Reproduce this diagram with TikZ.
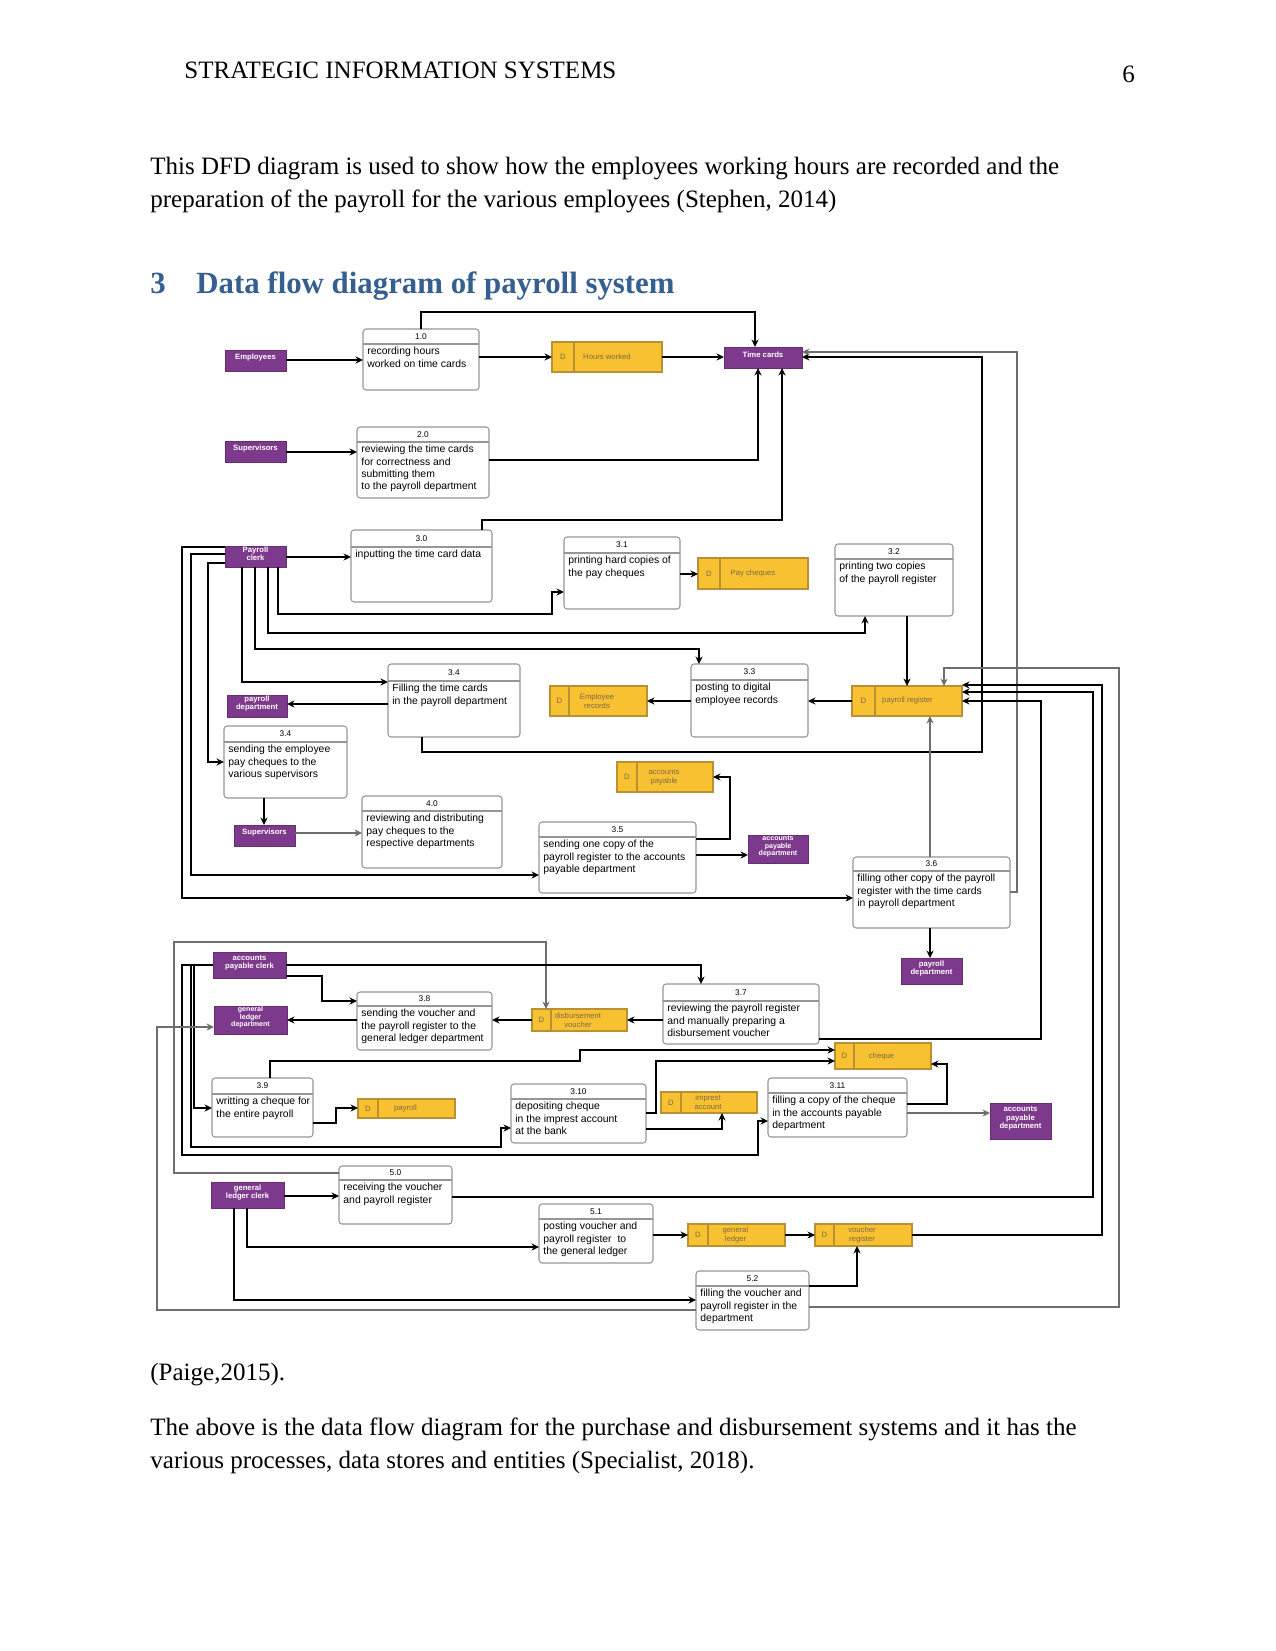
\documentclass[tikz,border=0pt]{standalone}
\usepackage{fontspec}
\setmainfont{Liberation Serif}
\setsansfont{Liberation Sans}
\usetikzlibrary{arrows.meta,fit}
\definecolor{entpurple}{RGB}{125,58,140}
\definecolor{storey}{RGB}{248,193,50}
\definecolor{storeline}{RGB}{185,145,50}
\definecolor{storetxt}{RGB}{125,105,70}
\definecolor{procline}{RGB}{150,150,150}
\definecolor{headblue}{RGB}{54,95,145}
\definecolor{flowgrey}{RGB}{110,110,110}
\tikzset{
 procbox/.style={draw=procline, fill=white, rounded corners=1.5pt, line width=0.5pt, inner sep=0pt, outer sep=0pt},
 prochdr/.style={draw=procline, line width=0.5pt},
 procnum/.style={font=\sffamily\fontsize{4}{4.5}\selectfont, inner sep=0pt},
 proctext/.style={font=\sffamily\fontsize{5}{5.9}\selectfont, anchor=north west, align=left, inner sep=0pt},
 entbox/.style={fill=entpurple, draw=entpurple!80!black, line width=0.3pt, text=white, font=\sffamily\bfseries\fontsize{3.7}{3.95}\selectfont, align=center, inner sep=0pt, outer sep=0pt},
 ent3/.style={font=\sffamily\bfseries\fontsize{3.4}{3.7}\selectfont},
 storebox/.style={fill=storey, draw=storeline, line width=0.5pt, inner sep=0pt, outer sep=0pt},
 storediv/.style={draw=storeline, line width=0.5pt},
 storeD/.style={font=\sffamily\fontsize{3.7}{4.3}\selectfont, text=storetxt, inner sep=0pt},
 storetext/.style={font=\sffamily\fontsize{3.7}{4.3}\selectfont, text=storetxt, align=center, inner sep=0pt},
 flow/.style={draw=black, line width=0.55pt, -{Stealth[length=3.6pt,width=3.4pt]}},
 gflow/.style={flow, draw=flowgrey},
 body/.style={font=\fontsize{12}{14}\selectfont, anchor=base west, inner sep=0pt},
 heading/.style={font=\bfseries\fontsize{14.8}{17}\selectfont, text=headblue, anchor=base west, inner sep=0pt},
}
\newcommand\proc[8]{%
  \node[procbox, fit={(#2,#3) (#4,#5)}] (#1) {};
  \draw[prochdr] (#2,#6) -- (#4,#6);
  \node[procnum] (#1-num) at ({(#2+#4)/2},{(#3+#6)/2}) {#7};
  \node[proctext] (#1-txt) at (#2+4,#6+3) {#8};
}
\newcommand\ent[7][]{\node[entbox, #1, fit={(#3,#4) (#5,#6)}] (#2) {#7};}
\newcommand\store[7]{%
  \node[storebox, fit={(#2,#3) (#4,#5)}] (#1) {};
  \draw[storediv] (#6,#3) -- (#6,#5);
  \node[storeD] (#1-D) at ({(#2+#6)/2},{(#3+#5)/2}) {D};
  \node[storetext] (#1-lab) at ({(#6+#4)/2-11},{(#3+#5)/2}) {#7};
}
\begin{document}
\begin{tikzpicture}[x=0.48pt,y=-0.48pt]
\fill[white] (0,0) rectangle (1275,1651);
\useasboundingbox (0,0) rectangle (1275,1651);

% page text
\node[body] (hdr) at (184,79) {STRATEGIC INFORMATION SYSTEMS};
\node[body] (pgno) at (1122,83) {6};
\node[body] (para1a) at (150,175) {This DFD diagram is used to show how the employees working hours are recorded and the};
\node[body] (para1b) at (150,208) {preparation of the payroll for the various employees (Stephen, 2014)};
\node[heading] (hnum) at (150,294) {3};
\node[heading] (htitle) at (196,294) {Data flow diagram of payroll system};
\node[body] (cite) at (150,1380) {(Paige,2015).};
\node[body] (para2a) at (150,1435) {The above is the data flow diagram for the purchase and disbursement systems and it has the};
\node[body] (para2b) at (150,1468) {various processes, data stores and entities (Specialist, 2018).};

% entities
\ent{emp}{225}{350}{286}{371}{Employees}
\ent{sup1}{225}{441}{286}{462}{Supervisors}
\ent{pc}{225}{546}{286}{567}{Payroll\\clerk}
\ent{tc}{724}{347}{802}{368}{Time cards}
\ent{pd1}{227}{695}{287}{717}{payroll\\department}
\ent{sup2}{234}{825}{295}{846}{Supervisors}
\ent[ent3]{apd1}{748}{835}{808}{863}{accounts\\payable\\department}
\ent{pd2}{901}{958}{962}{984}{payroll\\department}
\ent{apc}{213}{952}{286}{978}{accounts\\payable clerk}
\ent[ent3]{gldep}{214}{1006}{287}{1034}{general\\ledger\\department}
\ent{glc}{211}{1182}{284}{1208}{general\\ledger clerk}
\ent{apd2}{990}{1103}{1051}{1139}{accounts\\payable\\department}

% data stores
\store{hw}{552}{342}{662}{372}{574}{Hours worked}
\store{pchq}{698}{558}{808}{589}{720}{Pay cheques}
\store{er}{550}{686}{647}{716}{569}{Employee\\records}
\store{preg}{852}{686}{962}{716}{875}{payroll register}
\store{aps}{617}{762}{713}{792}{637}{accounts\\payable}
\store{dv}{532}{1009}{627}{1031}{551}{disbursement\\voucher}
\store{chq}{835}{1043}{931}{1069}{854}{cheque}
\store{pay}{358}{1099}{455}{1118}{378}{payroll}
\store{imp}{661}{1092}{757}{1113}{681}{imprest\\account}
\store{gls}{688}{1224}{785}{1246}{708}{general\\ledger}
\store{vr}{815}{1224}{912}{1246}{834}{voucher\\register}

% processes
\proc{p10}{363}{329}{479}{390}{344}{1.0}{recording hours\\worked on time cards}
\proc{p20}{357}{427}{489}{498}{442}{2.0}{reviewing the time cards\\for correctness and\\submitting them\\to the payroll department}
\proc{p30}{351}{530}{492}{602}{547}{3.0}{inputting the time card data}
\proc{p31}{564}{537}{680}{609}{553}{3.1}{printing hard copies of\\the pay cheques}
\proc{p32}{835}{544}{953}{616}{559}{3.2}{printing two copies\\of the payroll register}
\proc{p33}{691}{664}{808}{737}{680}{3.3}{posting to digital\\employee records}
\proc{p34f}{388}{664}{520}{737}{681}{3.4}{Filling the time cards\\in the payroll department}
\proc{p34s}{224}{726}{347}{798}{742}{3.4}{sending the employee\\pay cheques to the\\various supervisors}
\proc{p40}{362}{796}{502}{868}{811}{4.0}{reviewing and distributing\\pay cheques to the\\respective departments}
\proc{p35}{539}{822}{696}{893}{837}{3.5}{sending one copy of the\\payroll register to the accounts\\payable department}
\proc{p36}{853}{857}{1010}{928}{871}{3.6}{filling other copy of the payroll\\register with the time cards\\in payroll department}
\proc{p38}{357}{992}{492}{1050}{1006}{3.8}{sending the voucher and\\the payroll register to the\\general ledger department}
\proc{p37}{663}{984}{819}{1044}{1001}{3.7}{reviewing the payroll register\\and manually preparing a\\disbursement voucher}
\proc{p39}{212}{1078}{313}{1137}{1094}{3.9}{writting a cheque for\\the entire payroll}
\proc{p310}{511}{1084}{646}{1143}{1099}{3.10}{depositing cheque\\in the imprest account\\at the bank}
\proc{p311}{768}{1078}{907}{1137}{1093}{3.11}{filling a copy of the cheque\\in the accounts payable\\department}
\proc{p50}{339}{1166}{452}{1224}{1180}{5.0}{receiving the voucher\\and payroll register}
\proc{p51}{539}{1204}{653}{1263}{1219}{5.1}{posting voucher and\\payroll register\ \ to\\the general ledger}
\proc{p52}{696}{1271}{809}{1330}{1286}{5.2}{filling the voucher and\\payroll register in the\\department}

% connectors, upper part
\draw[flow] (emp.east|-0,360) -- (p10.west|-0,360);
\draw[flow] (p10.east|-0,357) -- (hw.west|-0,357);
\draw[flow] (hw.east|-0,357) -- (tc.west|-0,357);
\draw[flow] (p10.north-|421,0) |- (755,312) -- (tc.north-|755,0);
\draw[flow] (sup1.east|-0,452) -- (p20.west|-0,452);
\draw[flow] (p20.east|-0,460) -| (tc.south-|758,0);
\draw[flow] (p30.north-|482,0) -- (482,520) -| (tc.south-|782,0);
\draw[flow] (pc.east|-0,557) -- (p30.west|-0,557);
\draw[flow] (pc.south-|278,0) |- (552,614) |- (p31.west|-0,592);
\draw[flow] (p31.east|-0,574) -- (pchq.west|-0,574);
\draw[flow] (pc.south-|268,0) |- (865,633) -- (p32.south-|865,0);
\draw[flow] (pc.south-|255,0) |- (699,649) -- (p33.north-|699,0);
\draw[flow] (pc.south-|242,0) |- (p34f.west|-0,682);
\draw[flow] (pc.west|-0,563) -| (208,762) -- (p34s.west|-0,762);
\draw[flow] (pc.west|-0,554) -| (191,875) -- (p35.west|-0,875);
\draw[flow] (pc.west|-0,547) -| (182,898) -- (p36.west|-0,898);
\draw[flow] (p32.south-|907,0) -- (preg.north-|907,0);
\draw[flow] (p33.west|-0,701) -- (er.east|-0,701);
\draw[flow] (preg.west|-0,701) -- (p33.east|-0,701);
\draw[flow] (p34f.west|-0,704) -- (pd1.east|-0,704);
\draw[flow] (p34f.south-|422,0) |- (982,752) |- (tc.east|-0,357);
\draw[gflow] (p36.east|-0,892) -| (1017,352) -- (tc.east|-0,352);
\draw[flow] (p34s.south-|264,0) -- (sup2.north-|264,0);
\draw[gflow] (sup2.east|-0,833) -- (p40.west|-0,833);
\draw[flow] (p35.east|-0,839) -| (730,777) -- (aps.east|-0,777);
\draw[flow] (p35.east|-0,855) -- (apd1.west|-0,855);
\draw[gflow] (p36.north-|930,0) -- (preg.south-|930,0);
\draw[flow] (p36.south-|930,0) -- (pd2.north-|930,0);

% connectors, lower part
\draw[gflow] (p50.west|-0,1173) -| (174,942) -| (dv.north-|546,0);
\draw[flow] (apc.east|-0,965) -| (p37.north-|701,0);
\draw[flow] (apc.east|-0,976) -| (322,1001) -- (p38.west|-0,1001);
\draw[flow] (apc.west|-0,965) -| (194,1108) -- (p39.west|-0,1108);
\draw[flow] (apc.west|-0,965) -| (191,1147) -| (501,1128) -- (p310.west|-0,1128);
\draw[flow] (apc.west|-0,965) -| (182,1155) -| (758,1121) -- (p311.west|-0,1121);
\draw[flow] (p37.west|-0,1020) -- (dv.east|-0,1020);
\draw[flow] (dv.west|-0,1020) -- (p38.east|-0,1020);
\draw[flow] (p38.west|-0,1020) -- (gldep.east|-0,1020);
\draw[flow] (p37.east|-0,1039) -| (1041,701) -- (preg.east|-0,701);
\draw[flow] (p39.east|-0,1123) -| (336,1108) -- (pay.west|-0,1108);
\draw[flow] (p39.north-|270,0) |- (580,1061) |- (chq.west|-0,1050);
\draw[flow] (p310.east|-0,1113) -| (656,1061) -- (chq.west|-0,1061);
\draw[flow] (p310.east|-0,1129) -| (imp.south-|722,0);
\draw[flow] (p311.east|-0,1104) -| (947,1064) -- (chq.east|-0,1064);
\draw[gflow] (p311.east|-0,1113) -- (apd2.west|-0,1113);
\draw[flow] (glc.east|-0,1196) -- (p50.west|-0,1196);
\draw[flow] (p50.east|-0,1197) -| (1093,692) -- (preg.east|-0,692);
\draw[flow] (glc.south-|247,0) |- (p51.west|-0,1247);
\draw[flow] (glc.south-|234,0) |- (p52.west|-0,1300);
\draw[flow] (p51.east|-0,1235) -- (gls.west|-0,1235);
\draw[flow] (gls.east|-0,1235) -- (vr.west|-0,1235);
\draw[flow] (vr.east|-0,1235) -| (1102,685) -- (preg.east|-0,685);
\draw[flow] (p52.east|-0,1286) -| (vr.south-|857,0);
\draw[gflow] (p52.east|-0,1307) -| (1119,668) -| (preg.north-|944,0);
\draw[gflow] (p52.west|-0,1310) -| (157,1027) -- (gldep.west|-0,1027);
\end{tikzpicture}
\end{document}
